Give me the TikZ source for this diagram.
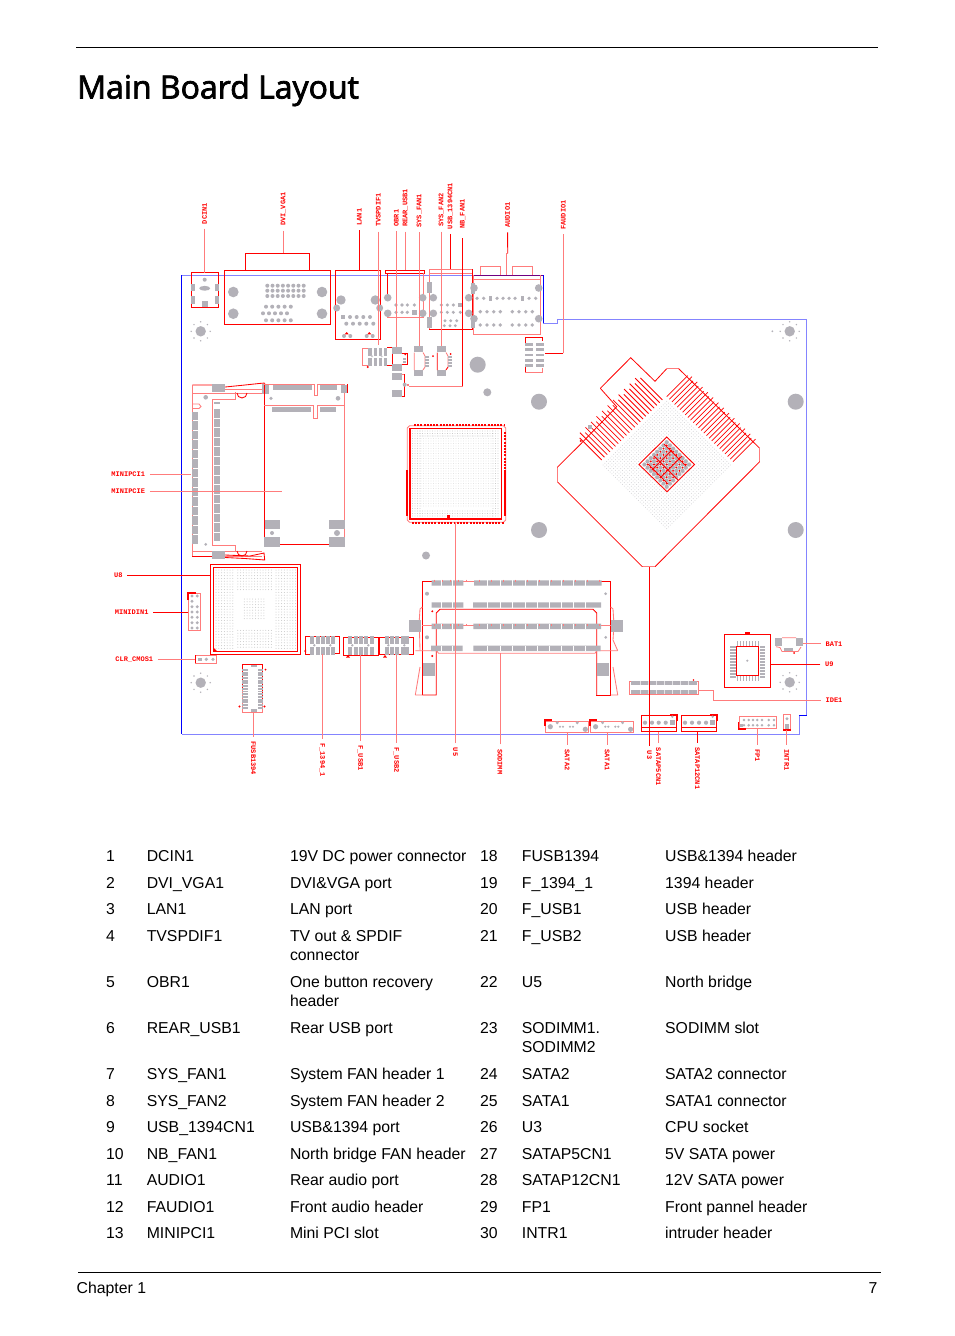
\documentclass[tikz,border=0pt]{standalone}
\usepackage{fontspec}
\setmainfont{Liberation Sans}
\newfontfamily\titlef{Open Sans}
\newfontfamily\monof{Liberation Mono}
\definecolor{rdc}{HTML}{FF0000}
\definecolor{pkc}{HTML}{FF7C7C}
\definecolor{gyc}{HTML}{B3B1B8}
\definecolor{blc}{HTML}{0000FF}
\definecolor{lbc}{HTML}{8484FF}
\definecolor{dot}{HTML}{CFCFD2}
\tikzset{
 rd/.style={draw=rdc,line width=.85pt},
 pk/.style={draw=pkc,line width=.85pt},
 rule/.style={draw=black,line width=.8pt},
 lbl/.style={font={\monof\bfseries\fontsize{7}{8}\selectfont},text=rdc,inner sep=4.5pt},
 txt/.style={font={\fontsize{15.8}{18}\selectfont},anchor=base west,inner sep=0pt,text=black},
}
\newcount\tcnt
\newcommand\GP[4]{\fill[gyc] ({#1-#3/2},{#2-#4/2}) rectangle ({#1+#3/2},{#2+#4/2});}
\newcommand\GC[3]{\fill[gyc] ({#1},{#2}) circle[radius=#3];}
\newcommand\Tx[3]{\global\advance\tcnt by 1 \node[txt] (tx\the\tcnt) at (#1,#2) {#3};}
\newcommand\RowT[7]{\Tx{106}{#1}{#2}\Tx{146.6}{#1}{#3}\Tx{289.8}{#1}{#4}\Tx{480}{#1}{#5}\Tx{521.7}{#1}{#6}\Tx{665}{#1}{#7}}
% top label + straight leader: name,x,ylabel,text,style,yend
\newcommand\LT[6]{\node[lbl,rotate=90] (#1) at (#2,#3) {#4}; \coordinate (#1e) at (#2,#6); \draw[#5] (#1) -- (#1e);}
\newcommand\LB[6]{\node[lbl,rotate=-90] (#1) at (#2,#3) {#4}; \coordinate (#1e) at (#2,#6); \draw[#5] (#1) -- (#1e);}
\newcommand\LH[6]{\node[lbl] (#1) at (#2,#3) {#4}; \coordinate (#1e) at (#6,#3); \draw[#5] (#1) -- (#1e);}
\newcommand\Hole[2]{\GC{#1}{#2}{5.2}\foreach \a in {0,45,...,315}{\GC{#1+9.5*cos(\a)}{#2+9.5*sin(\a)}{.8}}}
\begin{document}
\begin{tikzpicture}[x=1pt,y=-1pt]
\useasboundingbox (0,0) rectangle (954,1336);
\fill[white] (0,0) rectangle (954,1336);
% ---- page furniture
\coordinate (tl) at (76,47.7); \coordinate (tr) at (878,47.7);
\draw[rule] (tl) -- (tr);
\node[font={\titlef\fontsize{32}{36}\selectfont},anchor=base west,inner sep=0pt] (title) at (77,98.5) {\special{pdf:code 2 Tr 0.75 w}Main Board Layout\special{pdf:code 0 Tr}};
\coordinate (fl) at (78,1272.3); \coordinate (fr) at (881,1272.3);
\draw[line width=.6pt] (fl) -- (fr);
\Tx{76.5}{1293}{Chapter 1}
\node[txt,anchor=base east] (pg) at (877.5,1293) {7};
% ---- board outline
\draw[lbc,line width=.9pt] (181.5,275.3) -- (543.3,275.3) (543.3,323.3) -- (557.3,323.3) -- (557.3,319.3) -- (806.7,319.3) -- (806.7,715.3) (799,715.3) -- (799,734.3) -- (181.5,734.3);
\draw[blc,line width=.9pt] (181.5,275.3) -- (181.5,734.3);
\draw[blc,line width=.9pt] (543.3,275.3) -- (543.3,323.3);
\draw[blc,line width=.9pt] (806.7,715.3) -- (799,715.3);
\draw[draw={rgb,255:red,110;green,0;blue,130},line width=.9pt] (473,275.3) -- (543.3,275.3);
% ---- mounting holes
\GC{477.7}{364.7}{8}\GC{487.3}{392.3}{4}\GC{539}{401.7}{8}\GC{795.7}{401.7}{8}\GC{539}{530}{8}\GC{795.7}{530}{8}\GC{426}{555.5}{4}
\Hole{200.7}{331.3}\Hole{789.7}{331.3}\Hole{200.7}{682.7}\Hole{789.7}{682.3}
\GC{772.3}{331.3}{1}
% ---- DCIN1
\draw[rd] (191.3,272.7) rectangle (218.7,307.3);
\GP{192.5}{287.3}{4}{7.5}\GP{192.5}{300}{4}{7.5}\GP{217.3}{287.3}{4}{7.5}\GP{217.3}{300}{4}{7.5}
\GC{204.7}{279.7}{2}\fill[gyc] (204.7,288.3) ellipse[x radius=5.5,y radius=2.4];\GP{204.7}{304.3}{6}{6}
% ---- DVI
\draw[rd] (224.7,270.3) rectangle (330.7,324.3);
\draw[rd] (245.3,270.3) -- (245.3,253.3) -- (309.7,253.3) -- (309.7,270.3);
\foreach \x in {233.3,322}\foreach \y in {292,313.7}{\GC{\x}{\y}{5.3}}
\foreach \i in {0,...,7}{\GC{267.3+5.2*\i}{285.7}{2}\GC{267.3+5.2*\i}{290.7}{2}\GC{267.3+5.2*\i}{296}{2}}
\foreach \i in {0,...,4}{\GC{266+6.2*\i}{306.7}{2}\GC{263+6*\i}{313.3}{2}\GC{266+6.2*\i}{320.3}{2}}
% ---- LAN1
\draw[rd] (335.3,270.3) rectangle (380.7,339.3);
\GC{341}{300}{4.7}\GC{375.3}{300}{4.7}\GC{336.7}{308}{3.5}\GC{379.7}{308}{3.5}
\GP{342.7}{317}{4}{4}\foreach \x in {350,356.7,363.3,370}{\GC{\x}{317}{2}}
\foreach \x in {346.3,353,359.7,366.3,373.3}{\GC{\x}{323.7}{2}}
\foreach \x in {344,350.3,366.7,372.7}{\GC{\x}{336}{2}}
\fill[rdc] (344.7,334.3) -- (346.7,332) -- (348.7,334.3) -- cycle (367.3,334.3) -- (369.3,332) -- (371.3,334.3) -- cycle;
% ---- REAR_USB
\draw[rd] (385.3,273) -- (385.3,270.3) -- (424.3,270.3) -- (424.3,273) -- cycle;
\draw[rd] (387.3,273) -- (387.3,295);
\draw[pk] (387.3,315) -- (387.3,317.3) -- (423.3,317.3) -- (423.3,273);
\foreach \x in {387.7,422.7}\foreach \y in {297.7,313.3}{\GC{\x}{\y}{3.8}}
\foreach \x in {396,402,407.3}{\GC{\x}{305}{1.8}\GC{\x}{312.3}{1.8}}
\GC{414.3}{305}{1.8}\GP{414.3}{312.3}{4.4}{4.4}
% ---- USB_1394CN1
\draw[pk] (429.3,329.3) -- (429.3,269.3) -- (472.7,269.3);
\draw[pk] (429.3,273) -- (472.7,273);
\draw[rd] (429.3,329.3) -- (472.7,329.3);
\draw[rd] (472.7,269.3) -- (472.7,329.3);
\GP{429.3}{287.3}{4.6}{11}\GP{429.3}{322.7}{4.6}{11}
\foreach \x in {433.3,468.7}\foreach \y in {297.7,313.3}{\GC{\x}{\y}{3.8}}
\foreach \x in {441.3,447.3,453.3}{\GC{\x}{305}{1.7}\GC{\x}{312.3}{1.7}}
\GP{460.3}{305}{4}{4}\GC{460.3}{312.3}{1.7}
\foreach \x in {445,450.7,456.7}{\GC{\x}{320.7}{1.6}}\foreach \x in {444.3,450,455.3}{\GC{\x}{325.7}{1.6}}
% ---- AUDIO1
\draw[pk] (473.3,275.3) -- (473.3,334) -- (540.7,334) -- (540.7,275.3);
\draw[pk] (473.3,279.3) -- (540.7,279.3);
\draw[pk] (480.3,275.3) -- (480.3,266.3) -- (500.7,266.3) -- (500.7,275.3);
\draw[pk] (512.3,275.3) -- (512.3,266.3) -- (532.7,266.3) -- (532.7,275.3);
\foreach \x in {474,538.7}\foreach \y in {288,318.7}{\GC{\x}{\y}{3.8}}
\GP{473}{288}{4.5}{11}\GP{473}{322}{4.5}{11}
\foreach \x in {477,483.7,497,503,509,515,529,535.7}{\GC{\x}{298.3}{1.8}}\GP{490.3}{298.3}{3.6}{4.6}\GP{522.3}{298.3}{3.6}{4.6}
\foreach \x in {480.3,487,493.7,500.3,512.3,519,525.7,532.3}{\GC{\x}{311.7}{1.9}\GC{\x}{325}{1.9}}
% ---- FAUDIO1 connector
\draw[rd] (525.3,344) -- (525.3,337) -- (542.7,337) -- (542.7,341);
\draw[pk] (525.3,366) -- (525.3,372.3) -- (542.7,372.3) -- (542.7,368);
\draw[rd] (525.3,372.3) -- (525.3,366);
\foreach \y in {344.3,349.7,355,360.3,365.3}{\GP{529}{\y}{8}{2.8}\GP{540}{\y}{8}{2.8}}
% ---- small parts under rear I/O
\draw[pk] (372,348.3) -- (362.7,348.3) -- (362.7,365.7) -- (372,365.7);
\draw[rd] (387,347.5) -- (392.3,347.5) -- (392.3,365.7) -- (387,365.7);
\foreach \x in {370,375.3,380.3,385.3}{\GP{\x}{351.7}{3.3}{8}\GP{\x}{361.7}{3.3}{8}}
\fill[gyc!70] (372,356.3) circle[radius=1.1] (381.7,356.3) circle[radius=1.1];
\fill[rdc] (367.7,367) circle[radius=1.1];
\GP{397}{350.3}{9.3}{6.7}\GP{397}{367.3}{9.3}{6.7}\GP{397}{376.3}{9.3}{6.7}\GP{397}{393.3}{9.3}{6.7}
\draw[rd] (402,353.5) -- (404,353.5) (402,364.5) -- (407,364.5) -- (407,353.5) -- (402,353.5);
\GP{404.5}{358.5}{3}{2}\GP{404.5}{362}{3}{2}\fill[rdc] (405.3,354.3) circle[radius=1];
\draw[pk] (402,374.3) -- (404.7,374.3); \draw[rd] (404.7,374.3) -- (404.7,396) -- (402,396);
\GC{404.7}{384.7}{2}\fill[rdc] (408,385) circle[radius=.8];
\GP{418.7}{349.3}{9.3}{6}\GP{418.7}{373.3}{9.3}{6}
\draw[pk] (414.3,352.5) -- (414.3,370) (423,352.5) -- (425,356) -- (425,367) -- (423,370);
\foreach \y in {357,360,363,366.3}{\GP{427.3}{\y}{4}{1.8}}
\fill[rdc] (433,356) circle[radius=1];
\GP{441.3}{349.3}{8.7}{6}\GP{441.3}{373.3}{8.7}{6}
\draw[rd] (437.3,352.5) -- (437.3,370) (446,370) -- (448,367);
\draw[pk] (446,352.5) -- (448,356) -- (448,367);
\foreach \y in {357,360,363,366.3}{\GP{449.7}{\y}{4}{1.8}}
\fill[rdc] (450.7,354) circle[radius=1];
% ---- MINIPCI1 (left slot)
\draw[rd] (192.3,385) -- (212,385) (225,387) -- (245,385) -- (259,383.5) -- (264.7,383) (264.7,383) -- (264.7,393);
\draw[pk] (192.3,385) -- (192.3,393) -- (262,393) (225,389) -- (262,389);
\draw[pk] (192.3,393) -- (192.3,556) -- (262,556);
\draw[rd] (192.3,556) -- (212,556) ;
\draw[pk] (192.3,551.5) -- (262,551.5);
\draw[pk] (212.3,399) -- (235,399) -- (235,392);
\draw[pk] (212.3,399) -- (212.3,545) -- (235,545) -- (235,551);
\draw[rd] (225,555) -- (250,556) -- (264,553) -- (264.7,560) -- (245,558.5) -- (225,557.5);
\draw[rd] (237,393) arc[start angle=180,end angle=0,radius=5] ;
\draw[rd] (237,551) arc[start angle=180,end angle=0,radius=5];
\draw[pk] (192.3,404) -- (199,404) -- (201,406.5) -- (199,408.5) -- (192.3,408.5);
\GP{218.5}{387.8}{13}{7.6}\GP{218.5}{555}{13}{7.8}\GP{265.3}{389}{7.3}{9.4}
\foreach \y in {411.5,421,430.5,440,449.5,459,468.5,478,487.5,497,506.5,516,525.5,535}{\GP{195}{\y+4.5}{6}{8.8}\GP{217}{\y+2}{6}{8.8}}
\GP{217}{402.7}{6}{1.6}
\GC{205.7}{397.3}{2.3}\GC{205.7}{544.3}{1.5}
% ---- MINIPCIE (right slot)
\draw[rd] (264.3,384.3) -- (264.3,520);
\draw[pk] (264.3,384.3) -- (314.3,384.3) -- (314.3,395.7) -- (317.7,395.7) -- (317.7,384.3) -- (344.7,384.3) -- (344.7,545);
\draw[pk] (264.3,405) -- (313.3,405) -- (313.3,418.3) -- (317.7,418.3) -- (317.7,405) -- (344.7,405);
\draw[rd] (347.3,384.3) -- (347.3,393);
\GP{344}{389}{6.6}{8.4}
\GP{292.5}{387.7}{38.4}{5.4}\GP{328.3}{387.7}{16.7}{5.4}\GP{291.7}{409.8}{38.7}{5}\GP{327.8}{409.8}{16.3}{5}
\GC{271}{398.3}{1.8}\GC{338}{398.3}{2.3}
\foreach \x in {272.1,336.7}{\GP{\x}{524.5}{15.8}{9}\GP{\x}{542}{15.8}{9.4}}
\GC{272}{533}{2}\GC{337}{533}{3}
\draw[rd] (280,544.3) -- (328.7,544.3);
\draw[rd] (264.3,520) -- (264.3,537);
% ---- U5 north bridge
\draw[pk] (409.5,425.7) -- (503.5,425.7) -- (505.7,428) -- (505.7,520) -- (503.5,522.3) -- (409.5,522.3) -- (407.3,520) -- (407.3,428) -- cycle;
\draw[rd,line width=1.1pt] (410,428.3) rectangle (501.7,519);
\draw[rdc,line width=2pt,dash pattern=on 2pt off 1.2pt] (414,424.6) -- (504,424.6) (412,523) -- (504,523);
\draw[rdc,line width=2.2pt] (504.6,470) -- (504.6,516) (406.8,470) -- (406.8,516);
\draw[rdc,line width=2pt,dash pattern=on 2pt off 1.2pt] (504.6,432) -- (504.6,470);
\fill[gray!32] foreach \x in {421,423.5,...,492}{foreach \y in {436,438.5,...,508}{(\x,\y) circle[radius=.42]}};
\fill[gray!62] foreach \x in {412.5,415,...,420}{foreach \y in {431,433.5,...,516}{(\x,\y) circle[radius=.42]}};
\fill[gray!62] foreach \x in {493,495.5,...,500}{foreach \y in {431,433.5,...,516}{(\x,\y) circle[radius=.42]}};
\fill[gray!62] foreach \x in {420,422.5,...,493}{foreach \y in {431,433.5,436,511,513.5,516}{(\x,\y) circle[radius=.42]}};
\fill[rdc] (446.5,514.5) rectangle (449.5,519);
% ---- U3 socket
\fill[dot] foreach \u in {-45,-42.5,...,45}{foreach \v in {-45,-42.5,...,45}{({666.7+(\u+\v)*.7071},{465+(\u-\v)*.7071}) circle[radius=.48]}};
\draw[rd,line width=.8pt] (600.3,388.3) -- (630.7,357.7) -- (655,381.3) -- (666.7,368.7);
\draw[pk] (666.7,368.7) -- (678.7,368.7) ;
\draw[rd,line width=.8pt] (678.7,368.7) -- (759.7,448.3);
\draw[pk] (759.7,448.3) -- (759.7,461.7);
\draw[rd,line width=.8pt] (759.7,461.7) -- (655,566.7);
\draw[pk] (655,566.7) -- (642.3,566.7);
\draw[rd,line width=.8pt] (642.3,566.7) -- (557.3,481.7);
\draw[pk] (557.3,481.7) -- (557.3,467.3);
\draw[rd,line width=.8pt] (557.3,467.3) -- (580.7,444) -- (616.7,406.7) -- (600.3,388.3);
\foreach \i in {0,...,22}{
 \pgfmathsetmacro\xa{579.7+2.76*\i}\pgfmathsetmacro\ya{438-2.73*\i}
 \pgfmathsetmacro\ex{mod(\i,2)*2.5}
 \draw[draw=rdc,line width=.8pt] ({\xa-\ex},{\ya-\ex}) -- ++(22+\ex,22+\ex);
}
\foreach \i in {0,...,25}{
 \pgfmathsetmacro\xa{666.7+2.65*\i}\pgfmathsetmacro\ya{396.7+2.6*\i}
 \pgfmathsetmacro\ex{mod(\i,2)*1.6}
 \draw[draw=rdc,line width=.8pt] (\xa,\ya) -- ++(21+\ex,-21-\ex);
}
\GP{590}{427.3}{4}{4}\fill[rdc] (580.7,441) circle[radius=1.1];
\draw[rd,line width=.9pt] (666.7,437) -- (694.4,464.5) -- (667,491.7) -- (639,464.5) -- cycle;
\foreach \u in {-15.75,-11.25,...,16}{\foreach \v in {-15.75,-11.25,...,16}{\GC{666.7+(\u+\v)*.7071}{464.5+(\u-\v)*.7071}{2.1}}}
\foreach \u in {-13.5,-9,...,14}{\foreach \v in {-13.5,-9,...,14}{\fill[rdc] ({666.7+(\u+\v)*.7071},{464.5+(\u-\v)*.7071}) circle[radius=1.05];}}
\draw[draw=rdc,line width=1pt] (652,470) -- (672,450) (660,478) -- (682,456) (654,456) -- (678,480) (648,464) -- (668,484) (664,444) -- (686,466);
% ---- U8
\draw[rd] (210.7,564.3) rectangle (300.7,654.3);
\draw[rd] (213.3,567.3) rectangle (297.3,651.7);
\fill[gray!45] foreach \x in {216,218.8,...,235}{foreach \y in {570,572.8,...,650}{(\x,\y) circle[radius=.5]}};
\fill[gray!45] foreach \x in {276,278.8,...,296}{foreach \y in {570,572.8,...,650}{(\x,\y) circle[radius=.5]}};
\fill[gray!45] foreach \x in {237.8,240.6,...,274}{foreach \y in {570,572.8,...,591,630.4,633.2,...,650}{(\x,\y) circle[radius=.5]}};
\fill[gray!45] foreach \x in {244.3,247.1,...,266}{foreach \y in {599,601.8,...,620.5}{(\x,\y) circle[radius=.5]}};
\fill[rdc] (213.3,651.7) -- (213.3,647.3) -- (217.6,651.7) -- cycle;
% ---- MINIDIN1
\draw[pk] (188.3,593.3) rectangle (200,630.7);
\draw[rdc,line width=1.6pt] (188,600) -- (188,593) -- (196,593);
\foreach \y in {596,601.3,606.7,612,617.3,622.7,628}{\GC{192}{\y}{1.6}}
\foreach \y in {596,612,617.3,622.7,628,606.7}{\GC{197.3}{\y}{1.6}}
% ---- CLR_CMOS1
\draw[pk] (195,655.3) rectangle (216.7,663.3);
\draw[rd] (195,655.3) -- (195,663.3);
\GP{199.7}{659.3}{3.6}{3.6}\GC{206.3}{659.3}{1.8}\GC{213}{659.3}{1.8}
% ---- FUSB1394
\draw[rd] (242.7,664.3) -- (262.7,664.3) (242.7,664.3) -- (242.7,690);
\draw[pk] (242.7,690) -- (242.7,712.3) -- (262.7,712.3) -- (262.7,700);
\draw[rd] (262.7,664.3) -- (262.7,700);
\GP{254}{666}{6}{2.6}\GP{254}{710.3}{6}{2.6}
\foreach \y in {669.3,672,...,708}{\GP{245}{\y+.6}{5.3}{1.9}\GP{260.3}{\y+.6}{5.3}{1.9}}
\fill[rdc] (265.5,669.5) circle[radius=1] (239.5,706.5) circle[radius=1.2] (264.5,706.5) circle[radius=1.2];
% ---- F_1394_1 / F_USB1 / F_USB2
\draw[rd] (305.3,636) -- (339.3,636) -- (339.3,653) -- (333,653) (311,654) -- (305.3,654) -- (305.3,636);
\draw[rd] (343.3,637.3) -- (378.3,637.3) -- (378.3,655.3) -- (343.3,655.3) -- cycle;
\draw[rd] (379.3,637.3) -- (413.7,637.3) -- (413.7,654.7) -- (379.3,654.7) -- cycle;
\foreach \x in {312.3,317.7,323,328.3,333,350.3,355.7,361,366.3,371.7,386.7,392,397.3,402.7,407.3}{\GP{\x}{640}{4}{8.3}\GP{\x}{650.7}{4}{8.3}}
\foreach \x in {314.3,330.3,352.3,368.3,388.3,404.3}{\GC{\x}{645.3}{1.3}}
\fill[rdc] (304,651) -- (306,649.5) -- (306,652.5) -- cycle (348,655) -- (350,657.5) -- (346,657.5) -- cycle (385,655) -- (387,657.5) -- (383,657.5) -- cycle;
% ---- SODIMM
\draw[rd] (422.3,695) -- (422.3,581.7) -- (431.7,581.7) (474,581.7) -- (610.7,581.7) -- (610.7,695) -- (595.7,695);
\draw[pk] (463.3,581.7) -- (474,581.7);
\draw[rd] (422.3,695) -- (436.3,695) -- (436.3,613) -- (440,609.3) -- (593,609.3) -- (596.7,613) -- (596.7,695);
\draw[pk] (422.3,625.3) -- (610.7,625.3);
\draw[pk] (415.3,650.7) -- (436.7,650.7) -- (438.5,653.3) -- (595,653.3) -- (596.7,650.7) -- (617.7,650.7);
\draw[pk] (422.3,607) -- (420,609) -- (419.3,620) (419.5,632) -- (420,650) (610.7,607) -- (613,609) -- (613.7,620) (613.5,632) -- (613,640) -- (617.7,650.7);
\draw[pk] (415.3,695) -- (422.3,695) (415.3,695) -- (420,667) (610.7,695) -- (617.7,695) -- (613,667);
\foreach \y/\aa/\ab/\ba/\bb in {583/431.7/463.3/474/601.7,605/431.7/463.3/473/601,626.3/431.7/463.3/473.3/601,648.3/431/462.7/473.3/600.7}{
 \fill[gyc] (\aa,{\y-2.7}) rectangle (\ab,{\y+2.7}) (\ba,{\y-2.7}) rectangle (\bb,{\y+2.7});
 \foreach \x in {441,452,487,500,512,525,537,549,561,573,585}{\fill[white] (\x,{\y-2.7}) rectangle ++(.6,{5.4});}
}
\foreach \x in {434,442,450,458,466,479,491,503,515,527,539,551,563,575,587,599}{\draw[draw=pkc,line width=.5pt] (\x,579.5) -- (\x,581.5) (\x,623.8) -- (\x,625.5);}
\GP{415.2}{625.8}{12.3}{11.7}\GP{617.2}{625.8}{12.3}{11.7}\GP{428.8}{669.7}{12.3}{12.7}\GP{603}{669.7}{12.6}{12.7}
\GC{427}{593.7}{2}\GC{427}{637.3}{2}\GC{605.7}{593.7}{1.5}\GC{605.7}{637.3}{1.5}
\fill[rdc] (432.3,611.3) circle[radius=1.1] (432.3,656) circle[radius=1.1];
% ---- IDE1
\draw[pk] (629.7,681.7) rectangle (698.3,694.3);
\GP{664}{683.2}{66}{4.2}\GP{664}{691.6}{66}{4.2}
\foreach \x in {640,648,656,664,672,680,688}{\fill[white] (\x,681) rectangle ++(.6,4.4) (\x,689.4) rectangle ++(.6,4.4);}
\fill[rdc] (693.5,680) circle[radius=.9];
% ---- U9 + BAT1
\draw[rd] (724.3,634.3) rectangle (770.7,687.3);
\draw[rd] (736.3,646.7) rectangle (758.7,675.7);
\fill[rdc] (745,632) rectangle (750,634.3);
\foreach \x in {737.5,740.5,...,759}{\GP{\x}{643}{1.9}{5}\GP{\x}{678.3}{1.9}{5}}
\foreach \y in {647,650,...,677}{\GP{733}{\y}{5.5}{1.9}\GP{762.3}{\y}{5.5}{1.9}}
\GC{747.3}{660.7}{1.2}
\GP{778.7}{641.8}{6.7}{8.3}\GP{799.3}{641.8}{6.7}{8.3}
\draw[pk] (782,637.7) -- (796,637.7) (776,646.7) -- (780,647.5) -- (782,651.5) -- (798,651.5) -- (801,647);
\GP{788}{649.3}{9}{3.4}\fill[rdc] (794,653) circle[radius=1];
% ---- SATA connectors
\draw[pk] (545.3,721.3) rectangle (588.7,732.7);
\draw[pk] (590.3,721.3) rectangle (633.7,732.7);
\draw[rdc,line width=1.8pt] (544.8,726) -- (544.8,719.7) -- (552,719.7) (589.8,726) -- (589.8,719.7) -- (597,719.7);
\foreach \o in {0,45.3}{\GC{550.3+\o}{726.7}{2.6}\GC{585.3+\o}{729.3}{2.6}\GC{557.3+\o}{722.7}{1.6}\GC{577.3+\o}{722.7}{1.6}
 \foreach \x in {560,563,570,573}{\GC{\x+\o}{726.7}{1.2}}}
\draw[rd] (641.3,715.3) rectangle (676.7,731.7);
\draw[rd] (641.3,727.7) -- (676.7,727.7);
\draw[rd] (681.3,715.3) rectangle (716,731.7);
\draw[rd] (681.3,727.7) -- (716,727.7);
\foreach \x in {645,652,658.7,665.7,685,692,699,706}{\GC{\x}{722.7}{2.1}}
\GP{672.3}{722.7}{4.8}{4.8}\GP{712.7}{722.7}{4.8}{4.8}
\GC{672.3}{716.7}{1.3}\GC{712.7}{716.7}{1.3}
\draw[rdc,line width=1.5pt] (670,714.5) -- (677.5,714.5) -- (677.5,721) (710,714.5) -- (717,714.5) -- (717,721);
% ---- FP1 / INTR1
\draw[pk] (739.3,716.3) rectangle (776.7,728.3);
\draw[rdc,line width=1.6pt] (738.3,722) -- (738.3,729.2) -- (746,729.2);
\foreach \x in {744,748.7,753,757.3,762,768.7,774}{\GC{\x}{720}{1.4}\GC{\x}{725.3}{1.4}}
\GP{741.5}{725.3}{3}{3.5}
\draw[pk] (783.7,714.3) rectangle (790.7,730);
\draw[rdc,line width=1.4pt] (783.4,730) -- (791,730);
\GC{787}{718.7}{1.7}\GP{787}{726}{3.6}{5}
% ---- labels and leaders, top
\LT{lDCIN}{204.5}{213.5}{DCIN1}{pk}{272.7}
\LT{lDVI}{283.3}{209}{DVI\_VGA1}{pk}{253.3}
\LT{lLAN}{359.3}{217}{LAN1}{rd}{270.3}
\LT{lTV}{378.3}{210}{TVSPDIF1}{pk}{345}
\LT{lOBR}{396.3}{218}{OBR1}{pk}{346.7}
\LT{lREAR}{405.3}{208}{REAR\_USB1}{pk}{270.3}
\LT{lSF1}{419.3}{210.7}{SYS\_FAN1}{pk}{346}
\LT{lSF2}{441.3}{210}{SYS\_FAN2}{pk}{346}
\LT{lUSB}{450.3}{206}{USB\_1394CN1}{rd}{269.3}
\node[lbl,rotate=90] (lNB) at (462.7,214) {NB\_FAN1};
\coordinate (nb0) at (462.7,238); \coordinate (nb1) at (462.7,386.3); \coordinate (nb2) at (409.3,386.3);
\draw[rd] (nb0) -- (nb1); \draw[pk] (nb1) -- (nb2);
\node[lbl,rotate=90] (lAUD) at (507.5,215) {AUDIO1};
\coordinate (aud1) at (507.7,253.3); \coordinate (aud2) at (506.7,253.3); \coordinate (aud3) at (506.7,275.3);
\draw[rd] (lAUD) -- (aud1); \draw[pk] (aud1) -- (aud2) -- (aud3);
\node[lbl,rotate=90] (lFA) at (563.3,215) {FAUDIO1};
\coordinate (fa1) at (563.3,353.3); \coordinate (fa2) at (545,353.3);
\draw[pk] (lFA) -- (fa1); \draw[rd] (fa1) -- (fa2);
% ---- labels and leaders, left and right
\LH{lMP}{128.3}{474}{MINIPCI1}{pk}{191}
\LH{lMPE}{128.3}{491.5}{MINIPCIE}{pk}{281.7}
\LH{lU8}{118.3}{575}{U8}{rd}{210.7}
\LH{lMD}{131.7}{612}{MINIDIN1}{rd}{188.3}
\LH{lCLR}{134.3}{659.3}{CLR\_CMOS1}{pk}{195}
\LH{lBAT}{834}{643.7}{BAT1}{pk}{802.7}
\LH{lU9}{829.3}{664.3}{U9}{rd}{770.7}
\node[lbl] (lIDE) at (834,700.5) {IDE1};
\coordinate (id1) at (713.3,700.5); \coordinate (id2) at (713.3,690.3); \coordinate (id3) at (698.3,690.3);
\draw[pk] (lIDE) -- (id1) -- (id2) -- (id3);
% ---- labels and leaders, bottom
\LB{lF}{253.3}{758.3}{FUSB1394}{pk}{712.3}
\LB{lF1}{322.3}{760}{F\_1394\_1}{pk}{654}
\LB{lFU1}{360.3}{758}{F\_USB1}{pk}{655.3}
\LB{lFU2}{396.3}{760}{F\_USB2}{pk}{654.7}
\LB{lU5}{455.3}{752}{U5}{pk}{522.3}
\LB{lSO}{500}{761.7}{SODIMM}{pk}{653.3}
\LB{lS2}{567.3}{760}{SATA2}{pk}{732.7}
\LB{lS1}{607.3}{760}{SATA1}{pk}{732.7}
\LB{lU3}{649.3}{755}{U3}{rd}{566.7}
\LB{lP5}{658.3}{766.7}{SATAP5CN1}{pk}{731.7}
\LB{lP12}{697.3}{768.3}{SATAP12CN1}{rd}{731.7}
\LB{lFP}{757.3}{755.7}{FP1}{pk}{728.3}
\LB{lIN}{786.7}{760}{INTR1}{pk}{730}
% ---- table
\RowT{861.5}{1}{DCIN1}{19V DC power connector}{18}{FUSB1394}{USB\&1394 header}
\RowT{888}{2}{DVI\_VGA1}{DVI\&VGA port}{19}{F\_1394\_1}{1394 header}
\RowT{914.5}{3}{LAN1}{LAN port}{20}{F\_USB1}{USB header}
\RowT{941}{4}{TVSPDIF1}{TV out \& SPDIF}{21}{F\_USB2}{USB header}
\Tx{289.8}{960}{connector}
\RowT{987.5}{5}{OBR1}{One button recovery}{22}{U5}{North bridge}
\Tx{289.8}{1006}{header}
\RowT{1033.5}{6}{REAR\_USB1}{Rear USB port}{23}{SODIMM1.}{SODIMM slot}
\Tx{521.7}{1052}{SODIMM2}
\RowT{1079.5}{7}{SYS\_FAN1}{System FAN header 1}{24}{SATA2}{SATA2 connector}
\RowT{1106}{8}{SYS\_FAN2}{System FAN header 2}{25}{SATA1}{SATA1 connector}
\RowT{1132.5}{9}{USB\_1394CN1}{USB\&1394 port}{26}{U3}{CPU socket}
\RowT{1159}{10}{NB\_FAN1}{North bridge FAN header}{27}{SATAP5CN1}{5V SATA power}
\RowT{1185.5}{11}{AUDIO1}{Rear audio port}{28}{SATAP12CN1}{12V SATA power}
\RowT{1212}{12}{FAUDIO1}{Front audio header}{29}{FP1}{Front pannel header}
\RowT{1238.5}{13}{MINIPCI1}{Mini PCI slot}{30}{INTR1}{intruder header}
\end{tikzpicture}
\end{document}
